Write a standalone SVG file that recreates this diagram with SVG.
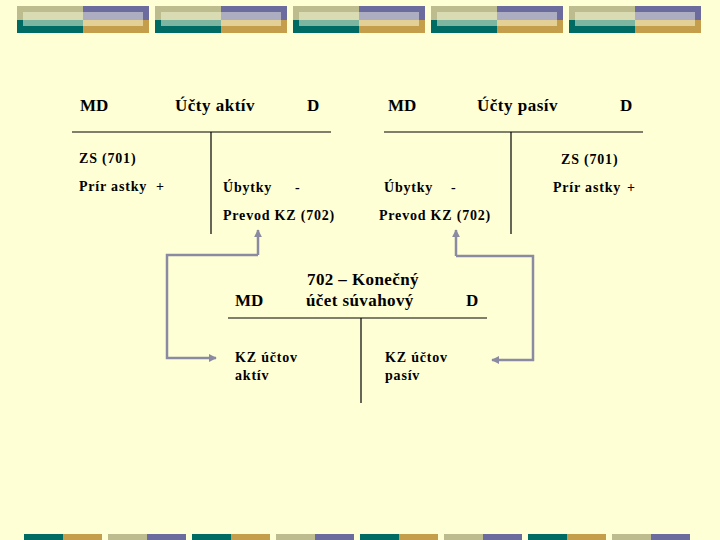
<svg xmlns="http://www.w3.org/2000/svg" xmlns:xlink="http://www.w3.org/1999/xlink" width="720" height="540" viewBox="0 0 720 540">
<style>
text{font-family:'Liberation Serif','DejaVu Serif',serif;font-weight:700;fill:#000}
.h{font-size:17px}
.s{font-size:14px;letter-spacing:0.8px}
.ln{stroke:#000;stroke-width:1.2;fill:none}
.ar{stroke:#8A8AA2;stroke-width:2.5;fill:none}
</style>
<defs>
<g id="hdr">
<rect x="0" y="6" width="66" height="14" fill="#BCBC8E"/>
<rect x="0" y="20" width="66" height="13" fill="#006B63"/>
<rect x="66" y="6" width="66" height="14" fill="#6B6B9E"/>
<rect x="66" y="20" width="66" height="13" fill="#C49E4B"/>
<rect x="6" y="12" width="60" height="8" fill="#D9DBB2"/>
<rect x="6" y="20" width="60" height="6" fill="#7DB5A0"/>
<rect x="66" y="12" width="60" height="8" fill="#ADADC2"/>
<rect x="66" y="20" width="60" height="6" fill="#E2D096"/>
</g>
<g id="fa">
<rect x="0" y="534" width="39" height="6" fill="#006B63"/>
<rect x="39" y="534" width="39" height="6" fill="#C49E4B"/>
</g>
<g id="fb">
<rect x="0" y="534" width="39" height="6" fill="#BCBC8E"/>
<rect x="39" y="534" width="39" height="6" fill="#6B6B9E"/>
</g>
<marker id="ah" viewBox="0 0 10 10" refX="9" refY="5" markerWidth="3.2" markerHeight="3.2" orient="auto" markerUnits="strokeWidth">
<path d="M0,0 L10,5 L0,10 z" fill="#8A8AA2"/>
</marker>
</defs>
<rect width="720" height="540" fill="#FFFFD6"/>
<g id="header-deco">
<use xlink:href="#hdr" x="17"/>
<use xlink:href="#hdr" x="155"/>
<use xlink:href="#hdr" x="293"/>
<use xlink:href="#hdr" x="431"/>
<use xlink:href="#hdr" x="569"/>
</g>
<g id="footer-deco">
<use xlink:href="#fa" x="24"/>
<use xlink:href="#fb" x="108"/>
<use xlink:href="#fa" x="192"/>
<use xlink:href="#fb" x="276"/>
<use xlink:href="#fa" x="360"/>
<use xlink:href="#fb" x="444"/>
<use xlink:href="#fa" x="528"/>
<use xlink:href="#fb" x="612"/>
</g>
<g id="ucty-aktiv">
<text class="h" x="80" y="111">MD</text>
<text class="h" x="175" y="111" letter-spacing="0.5">Účty aktív</text>
<text class="h" x="307" y="111">D</text>
<line class="ln" x1="72" y1="132" x2="331" y2="132"/>
<line class="ln" x1="211" y1="132" x2="211" y2="234"/>
<text class="s" x="79" y="163">ZS (701)</text>
<text class="s" x="79" y="191">Prír astky</text>
<text class="s" x="156" y="191">+</text>
<text class="s" x="223" y="192">Úbytky</text>
<text class="s" x="295" y="192">-</text>
<text class="s" x="223" y="220">Prevod KZ (702)</text>
</g>
<g id="ucty-pasiv">
<text class="h" x="388" y="111">MD</text>
<text class="h" x="477" y="111" letter-spacing="0.5">Účty pasív</text>
<text class="h" x="620" y="111">D</text>
<line class="ln" x1="384" y1="132" x2="643" y2="132"/>
<line class="ln" x1="511" y1="132" x2="511" y2="234"/>
<text class="s" x="561" y="164">ZS (701)</text>
<text class="s" x="553" y="192">Prír astky</text>
<text class="s" x="627" y="192">+</text>
<text class="s" x="384" y="192">Úbytky</text>
<text class="s" x="451" y="192">-</text>
<text class="s" x="379" y="220">Prevod KZ (702)</text>
</g>
<g id="konecny-ucet">
<text class="h" x="307" y="285" letter-spacing="0.4">702 – Konečný</text>
<text class="h" x="306" y="306" letter-spacing="0.4">účet súvahový</text>
<text class="h" x="235" y="306">MD</text>
<text class="h" x="466" y="306">D</text>
<line class="ln" x1="228" y1="318" x2="487" y2="318"/>
<line class="ln" x1="361" y1="318" x2="361" y2="403"/>
<text class="s" x="235" y="362">KZ účtov</text>
<text class="s" x="235" y="380">aktív</text>
<text class="s" x="385" y="362">KZ účtov</text>
<text class="s" x="385" y="380">pasív</text>
</g>
<g id="connectors">
<polyline class="ar" points="258,255 258,230" marker-end="url(#ah)"/>
<polyline class="ar" points="258,255 167,255 167,358 216,358" marker-end="url(#ah)"/>
<polyline class="ar" points="456,256 456,230" marker-end="url(#ah)"/>
<polyline class="ar" points="456,256 533,256 533,360 492,360" marker-end="url(#ah)"/>
</g>
</svg>
